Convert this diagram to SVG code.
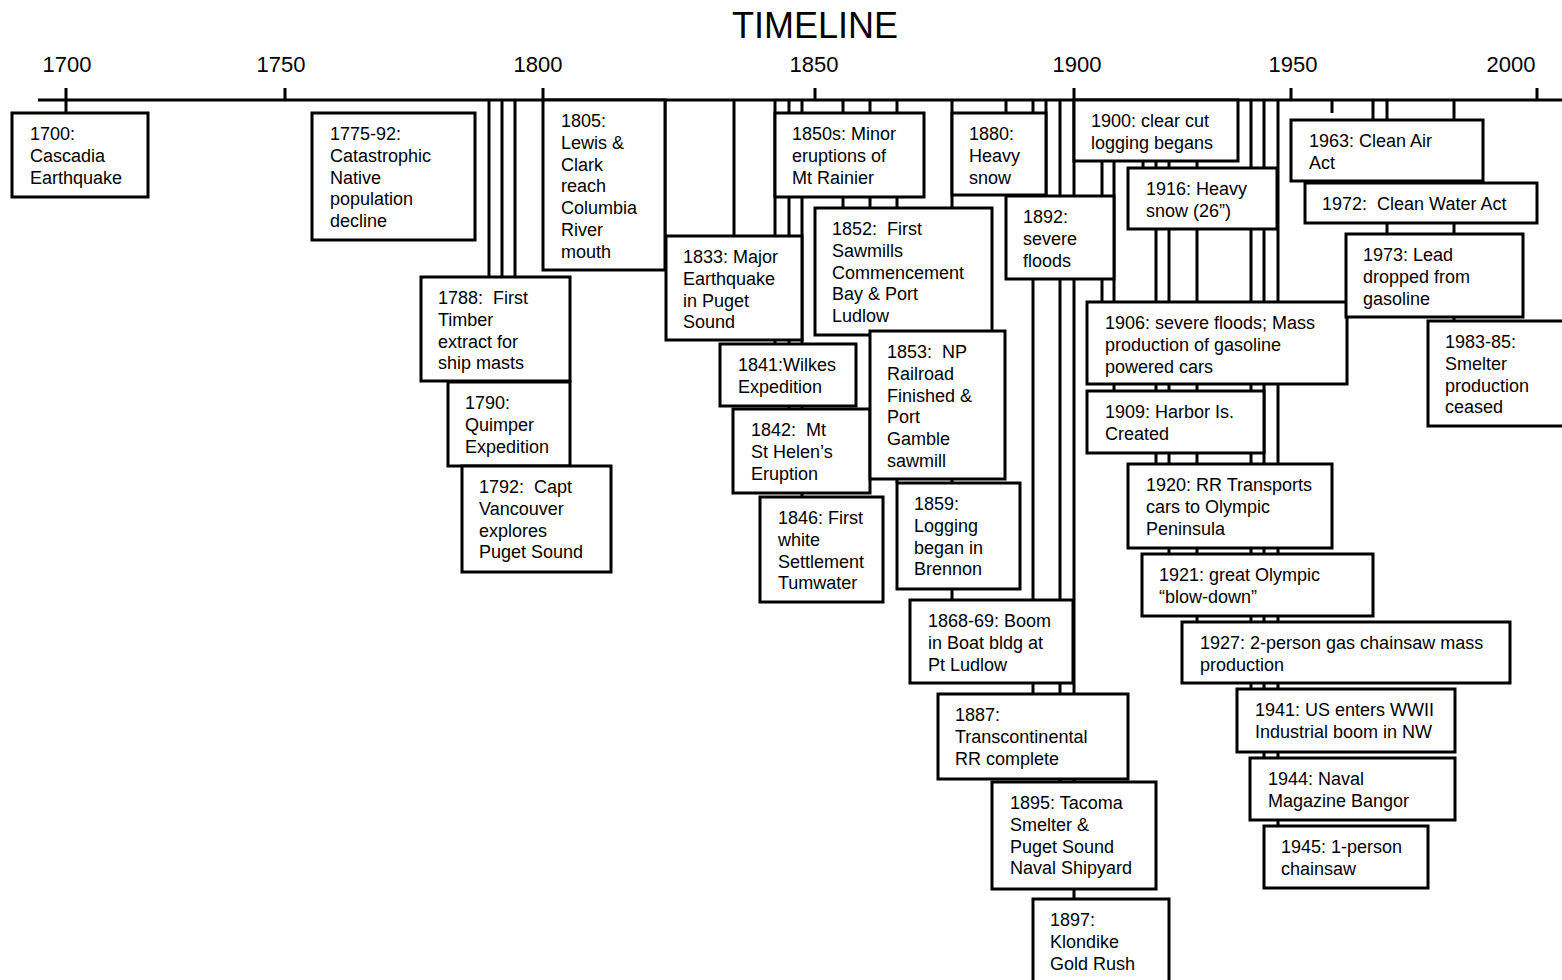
<svg xmlns="http://www.w3.org/2000/svg" width="1562" height="980" viewBox="0 0 1562 980">
<style>
.box{fill:#fff;stroke:#000;stroke-width:3}
.ln{stroke:#000;stroke-width:3;fill:none}
text{font-family:"Liberation Sans",Arial,sans-serif;fill:#000;white-space:pre}
.t{font-size:18px}
.yr{font-size:22px;text-anchor:middle}
.title{font-size:36px;text-anchor:middle}
</style>
<rect width="1562" height="980" fill="#fff"/>
<text class="title" x="815" y="38">TIMELINE</text>
<g id="axis">
<line class="ln" x1="38" y1="100" x2="1562" y2="100"/>
<line class="ln" x1="66" y1="88" x2="66" y2="100"/>
<line class="ln" x1="285" y1="88" x2="285" y2="100"/>
<line class="ln" x1="543" y1="88" x2="543" y2="100"/>
<line class="ln" x1="815" y1="88" x2="815" y2="100"/>
<line class="ln" x1="1074" y1="88" x2="1074" y2="100"/>
<line class="ln" x1="1291" y1="88" x2="1291" y2="100"/>
<line class="ln" x1="1537" y1="88" x2="1537" y2="100"/>
<text class="yr" x="67" y="72">1700</text>
<text class="yr" x="281" y="72">1750</text>
<text class="yr" x="538" y="72">1800</text>
<text class="yr" x="814" y="72">1850</text>
<text class="yr" x="1077" y="72">1900</text>
<text class="yr" x="1293" y="72">1950</text>
<text class="yr" x="1511" y="72">2000</text>
</g>
<g id="connectors">
<line class="ln" x1="66" y1="100" x2="66" y2="113"/>
<line class="ln" x1="489" y1="100" x2="489" y2="277"/>
<line class="ln" x1="502" y1="100" x2="502" y2="382"/>
<line class="ln" x1="515" y1="100" x2="515" y2="466"/>
<line class="ln" x1="665" y1="100" x2="665" y2="236"/>
<line class="ln" x1="734" y1="100" x2="734" y2="236"/>
<line class="ln" x1="775" y1="100" x2="775" y2="344"/>
<line class="ln" x1="789" y1="100" x2="789" y2="409"/>
<line class="ln" x1="802" y1="100" x2="802" y2="497"/>
<line class="ln" x1="843" y1="100" x2="843" y2="208"/>
<line class="ln" x1="870" y1="100" x2="870" y2="331"/>
<line class="ln" x1="897" y1="100" x2="897" y2="483"/>
<line class="ln" x1="952" y1="100" x2="952" y2="600"/>
<line class="ln" x1="1006" y1="100" x2="1006" y2="113"/>
<line class="ln" x1="1033" y1="100" x2="1033" y2="694"/>
<line class="ln" x1="1046" y1="100" x2="1046" y2="196"/>
<line class="ln" x1="1060" y1="100" x2="1060" y2="782"/>
<line class="ln" x1="1074" y1="100" x2="1074" y2="899"/>
<line class="ln" x1="1102" y1="100" x2="1102" y2="302"/>
<line class="ln" x1="1114" y1="100" x2="1114" y2="391"/>
<line class="ln" x1="1143" y1="100" x2="1143" y2="168"/>
<line class="ln" x1="1156" y1="100" x2="1156" y2="464"/>
<line class="ln" x1="1169" y1="100" x2="1169" y2="554"/>
<line class="ln" x1="1197" y1="100" x2="1197" y2="622"/>
<line class="ln" x1="1251" y1="100" x2="1251" y2="689"/>
<line class="ln" x1="1264" y1="100" x2="1264" y2="758"/>
<line class="ln" x1="1278" y1="100" x2="1278" y2="826"/>
<line class="ln" x1="1332" y1="100" x2="1332" y2="113"/>
<line class="ln" x1="1373" y1="100" x2="1373" y2="183"/>
<line class="ln" x1="1387" y1="100" x2="1387" y2="234"/>
<line class="ln" x1="1454" y1="100" x2="1454" y2="321"/>
</g>
<g id="e1700"><rect class="box" x="12" y="113" width="136" height="84"/><text class="t" x="30" y="140"><tspan x="30">1700:</tspan><tspan x="30" dy="21.75">Cascadia</tspan><tspan x="30" dy="21.75">Earthquake</tspan></text></g>
<g id="e1775"><rect class="box" x="312" y="113" width="163" height="127"/><text class="t" x="330" y="140"><tspan x="330">1775-92:</tspan><tspan x="330" dy="21.75">Catastrophic</tspan><tspan x="330" dy="21.75">Native</tspan><tspan x="330" dy="21.75">population</tspan><tspan x="330" dy="21.75">decline</tspan></text></g>
<g id="e1788"><rect class="box" x="421" y="277" width="149" height="104"/><text class="t" x="438" y="304"><tspan x="438">1788:  First</tspan><tspan x="438" dy="21.75">Timber</tspan><tspan x="438" dy="21.75">extract for</tspan><tspan x="438" dy="21.75">ship masts</tspan></text></g>
<g id="e1790"><rect class="box" x="448" y="382" width="122" height="84"/><text class="t" x="465" y="409"><tspan x="465">1790:</tspan><tspan x="465" dy="21.75">Quimper</tspan><tspan x="465" dy="21.75">Expedition</tspan></text></g>
<g id="e1792"><rect class="box" x="462" y="466" width="149" height="106"/><text class="t" x="479" y="493"><tspan x="479">1792:  Capt</tspan><tspan x="479" dy="21.75">Vancouver</tspan><tspan x="479" dy="21.75">explores</tspan><tspan x="479" dy="21.75">Puget Sound</tspan></text></g>
<g id="e1805"><rect class="box" x="543" y="100" width="122" height="170"/><text class="t" x="561" y="127"><tspan x="561">1805:</tspan><tspan x="561" dy="21.75">Lewis &amp;</tspan><tspan x="561" dy="21.75">Clark</tspan><tspan x="561" dy="21.75">reach</tspan><tspan x="561" dy="21.75">Columbia</tspan><tspan x="561" dy="21.75">River</tspan><tspan x="561" dy="21.75">mouth</tspan></text></g>
<g id="e1833"><rect class="box" x="666" y="236" width="136" height="104"/><text class="t" x="683" y="263"><tspan x="683">1833: Major</tspan><tspan x="683" dy="21.75">Earthquake</tspan><tspan x="683" dy="21.75">in Puget</tspan><tspan x="683" dy="21.75">Sound</tspan></text></g>
<g id="e1841"><rect class="box" x="720" y="344" width="136" height="62"/><text class="t" x="738" y="371"><tspan x="738">1841:Wilkes</tspan><tspan x="738" dy="21.75">Expedition</tspan></text></g>
<g id="e1842"><rect class="box" x="733" y="409" width="137" height="84"/><text class="t" x="751" y="436"><tspan x="751">1842:  Mt</tspan><tspan x="751" dy="21.75">St Helen’s</tspan><tspan x="751" dy="21.75">Eruption</tspan></text></g>
<g id="e1846"><rect class="box" x="760" y="497" width="123" height="105"/><text class="t" x="778" y="524"><tspan x="778">1846: First</tspan><tspan x="778" dy="21.75">white</tspan><tspan x="778" dy="21.75">Settlement</tspan><tspan x="778" dy="21.75">Tumwater</tspan></text></g>
<g id="e1850s"><rect class="box" x="775" y="113" width="149" height="84"/><text class="t" x="792" y="140"><tspan x="792">1850s: Minor</tspan><tspan x="792" dy="21.75">eruptions of</tspan><tspan x="792" dy="21.75">Mt Rainier</tspan></text></g>
<g id="e1852"><rect class="box" x="815" y="208" width="177" height="127"/><text class="t" x="832" y="235"><tspan x="832">1852:  First</tspan><tspan x="832" dy="21.75">Sawmills</tspan><tspan x="832" dy="21.75">Commencement</tspan><tspan x="832" dy="21.75">Bay &amp; Port</tspan><tspan x="832" dy="21.75">Ludlow</tspan></text></g>
<g id="e1853"><rect class="box" x="870" y="331" width="135" height="148"/><text class="t" x="887" y="358"><tspan x="887">1853:  NP</tspan><tspan x="887" dy="21.75">Railroad</tspan><tspan x="887" dy="21.75">Finished &amp;</tspan><tspan x="887" dy="21.75">Port</tspan><tspan x="887" dy="21.75">Gamble</tspan><tspan x="887" dy="21.75">sawmill</tspan></text></g>
<g id="e1859"><rect class="box" x="897" y="483" width="123" height="106"/><text class="t" x="914" y="510"><tspan x="914">1859:</tspan><tspan x="914" dy="21.75">Logging</tspan><tspan x="914" dy="21.75">began in</tspan><tspan x="914" dy="21.75">Brennon</tspan></text></g>
<g id="e1868"><rect class="box" x="910" y="600" width="163" height="83"/><text class="t" x="928" y="627"><tspan x="928">1868-69: Boom</tspan><tspan x="928" dy="21.75">in Boat bldg at</tspan><tspan x="928" dy="21.75">Pt Ludlow</tspan></text></g>
<g id="e1880"><rect class="box" x="952" y="113" width="94" height="82"/><text class="t" x="969" y="140"><tspan x="969">1880:</tspan><tspan x="969" dy="21.75">Heavy</tspan><tspan x="969" dy="21.75">snow</tspan></text></g>
<g id="e1887"><rect class="box" x="938" y="694" width="190" height="85"/><text class="t" x="955" y="721"><tspan x="955">1887:</tspan><tspan x="955" dy="21.75">Transcontinental</tspan><tspan x="955" dy="21.75">RR complete</tspan></text></g>
<g id="e1892"><rect class="box" x="1006" y="196" width="108" height="83"/><text class="t" x="1023" y="223"><tspan x="1023">1892:</tspan><tspan x="1023" dy="21.75">severe</tspan><tspan x="1023" dy="21.75">floods</tspan></text></g>
<g id="e1895"><rect class="box" x="992" y="782" width="164" height="107"/><text class="t" x="1010" y="809"><tspan x="1010">1895: Tacoma</tspan><tspan x="1010" dy="21.75">Smelter &amp;</tspan><tspan x="1010" dy="21.75">Puget Sound</tspan><tspan x="1010" dy="21.75">Naval Shipyard</tspan></text></g>
<g id="e1897"><rect class="box" x="1033" y="899" width="136" height="100"/><text class="t" x="1050" y="926"><tspan x="1050">1897:</tspan><tspan x="1050" dy="21.75">Klondike</tspan><tspan x="1050" dy="21.75">Gold Rush</tspan></text></g>
<g id="e1900"><rect class="box" x="1074" y="100" width="164" height="61"/><text class="t" x="1091" y="127"><tspan x="1091">1900: clear cut</tspan><tspan x="1091" dy="21.75">logging begans</tspan></text></g>
<g id="e1906"><rect class="box" x="1087" y="302" width="260" height="82"/><text class="t" x="1105" y="329"><tspan x="1105">1906: severe floods; Mass</tspan><tspan x="1105" dy="21.75">production of gasoline</tspan><tspan x="1105" dy="21.75">powered cars</tspan></text></g>
<g id="e1909"><rect class="box" x="1087" y="391" width="177" height="62"/><text class="t" x="1105" y="418"><tspan x="1105">1909: Harbor Is.</tspan><tspan x="1105" dy="21.75">Created</tspan></text></g>
<g id="e1916"><rect class="box" x="1128" y="168" width="149" height="61"/><text class="t" x="1146" y="195"><tspan x="1146">1916: Heavy</tspan><tspan x="1146" dy="21.75">snow (26”)</tspan></text></g>
<g id="e1920"><rect class="box" x="1128" y="464" width="204" height="84"/><text class="t" x="1146" y="491"><tspan x="1146">1920: RR Transports</tspan><tspan x="1146" dy="21.75">cars to Olympic</tspan><tspan x="1146" dy="21.75">Peninsula</tspan></text></g>
<g id="e1921"><rect class="box" x="1142" y="554" width="231" height="62"/><text class="t" x="1159" y="581"><tspan x="1159">1921: great Olympic</tspan><tspan x="1159" dy="21.75">“blow-down”</tspan></text></g>
<g id="e1927"><rect class="box" x="1182" y="622" width="328" height="61"/><text class="t" x="1200" y="649"><tspan x="1200">1927: 2-person gas chainsaw mass</tspan><tspan x="1200" dy="21.75">production</tspan></text></g>
<g id="e1941"><rect class="box" x="1237" y="689" width="218" height="63"/><text class="t" x="1255" y="716"><tspan x="1255">1941: US enters WWII</tspan><tspan x="1255" dy="21.75">Industrial boom in NW</tspan></text></g>
<g id="e1944"><rect class="box" x="1250" y="758" width="205" height="62"/><text class="t" x="1268" y="785"><tspan x="1268">1944: Naval</tspan><tspan x="1268" dy="21.75">Magazine Bangor</tspan></text></g>
<g id="e1945"><rect class="box" x="1264" y="826" width="164" height="62"/><text class="t" x="1281" y="853"><tspan x="1281">1945: 1-person</tspan><tspan x="1281" dy="21.75">chainsaw</tspan></text></g>
<g id="e1963"><rect class="box" x="1291" y="120" width="192" height="61"/><text class="t" x="1309" y="147"><tspan x="1309">1963: Clean Air</tspan><tspan x="1309" dy="21.75">Act</tspan></text></g>
<g id="e1972"><rect class="box" x="1305" y="183" width="232" height="40"/><text class="t" x="1322" y="210">1972:  Clean Water Act</text></g>
<g id="e1973"><rect class="box" x="1346" y="234" width="177" height="83"/><text class="t" x="1363" y="261"><tspan x="1363">1973: Lead</tspan><tspan x="1363" dy="21.75">dropped from</tspan><tspan x="1363" dy="21.75">gasoline</tspan></text></g>
<g id="e1983"><rect class="box" x="1428" y="321" width="150" height="105"/><text class="t" x="1445" y="348"><tspan x="1445">1983-85:</tspan><tspan x="1445" dy="21.75">Smelter</tspan><tspan x="1445" dy="21.75">production</tspan><tspan x="1445" dy="21.75">ceased</tspan></text></g>
</svg>
